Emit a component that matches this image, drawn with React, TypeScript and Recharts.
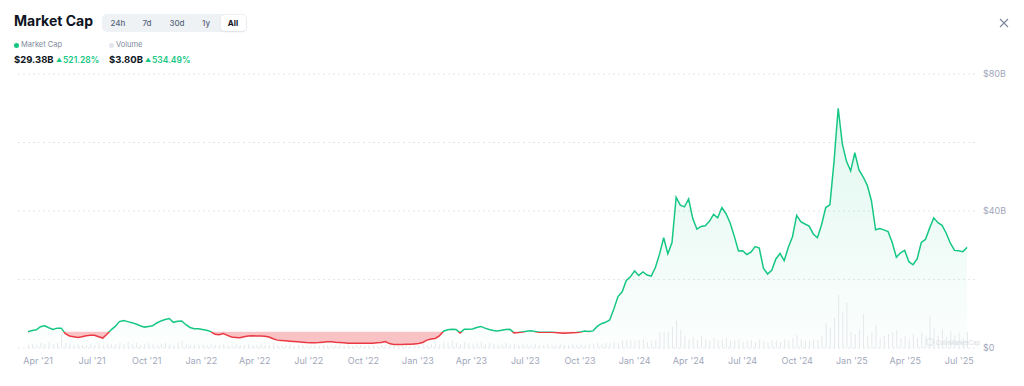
import { Area, Bar, CartesianGrid, ComposedChart, XAxis, YAxis } from 'recharts';

// weekly samples, Mar 15 2021 -> Jul 14 2025
const startDate = Date.UTC(2021, 2, 15);
const WEEK = 7 * 24 * 3600 * 1000;

// market cap, $B
const marketCap = [
  4.73, 5.1, 5.3, 6.2, 6.5, 5.9, 5.4, 5.8, 5.8, 4.2,
  3.5, 3.3, 3.1, 3.3, 3.6, 3.7, 3.7, 3.3, 2.9, 4.0,
  5.3, 6.3, 7.7, 8.0, 7.7, 7.4, 7.0, 6.5, 6.1, 6.3,
  6.5, 7.3, 7.9, 8.3, 8.6, 7.5, 7.8, 7.9, 6.8, 6.0,
  5.6, 5.6, 5.4, 5.2, 4.8, 4.0, 3.9, 4.2, 3.7, 3.2,
  3.1, 3.0, 3.3, 3.5, 3.6, 3.5, 3.5, 3.4, 3.2, 2.7,
  2.3, 2.2, 2.1, 2.0, 1.9, 1.8, 1.7, 1.6, 1.55, 1.55,
  1.6, 1.7, 1.8, 1.85, 1.7, 1.6, 1.5, 1.4, 1.4, 1.4,
  1.4, 1.4, 1.4, 1.4, 1.5, 1.6, 1.9, 1.3, 1.05, 1.05,
  1.05, 1.1, 1.1, 1.2, 1.3, 1.6, 2.3, 2.6, 2.8, 3.5,
  4.9, 5.3, 5.5, 5.4, 4.4, 5.5, 5.5, 5.55, 6.0, 6.3,
  5.8, 5.4, 5.1, 5.0, 5.2, 5.4, 5.45, 4.4, 4.5, 4.7,
  4.9, 5.0, 4.8, 4.6, 4.6, 4.6, 4.6, 4.5, 4.4, 4.3,
  4.4, 4.45, 4.5, 4.7, 4.95, 4.8, 5.0, 6.3, 7.1, 7.5,
  8.2, 11.4, 15.0, 16.4, 19.7, 20.8, 22.5, 21.2, 22.2, 21.3,
  21.0, 23.5, 27.4, 32.2, 27.5, 30.8, 44.0, 41.7, 41.2, 43.5,
  37.8, 34.7, 35.5, 35.7, 37.0, 39.0, 38.0, 41.0, 39.2, 36.5,
  32.6, 28.3, 28.4, 27.3, 28.0, 29.6, 29.2, 23.3, 21.6, 22.7,
  26.0, 27.6, 25.5, 29.4, 32.5, 38.7, 36.9, 36.2, 35.6, 33.3,
  32.2, 36.0, 41.0, 41.8, 54.5, 70.0, 59.5, 54.5, 51.7, 57.0,
  52.0, 50.0, 47.5, 43.0, 34.5, 34.9, 34.5, 34.0, 30.8, 26.5,
  27.8, 28.5, 25.2, 24.3, 26.0, 30.8, 31.7, 35.0, 38.0, 36.6,
  35.8, 33.5, 30.6, 28.5, 28.4, 28.1, 29.38,
];

// volume, $B
const volume = [
  0.7, 0.9, 0.7, 1.2, 0.9, 1.4, 0.9, 1.2, 3.1, 1.2,
  0.9, 0.7, 0.9, 0.7, 0.7, 0.9, 0.7, 1.2, 0.7, 0.9,
  0.9, 0.9, 1.2, 0.9, 1.4, 0.9, 1.2, 0.7, 0.9, 1.2,
  0.9, 0.7, 0.9, 1.2, 0.9, 0.7, 1.4, 1.7, 0.9, 0.7,
  0.7, 0.9, 0.7, 0.7, 0.9, 0.7, 0.7, 0.9, 0.7, 0.7,
  0.9, 0.7, 0.7, 0.9, 0.7, 0.7, 0.9, 0.7, 0.7, 1.2,
  0.7, 0.5, 0.7, 0.7, 0.5, 0.7, 0.7, 0.5, 0.7, 0.7,
  0.5, 0.7, 0.7, 0.5, 0.7, 0.7, 0.5, 0.7, 0.5, 0.7,
  0.7, 0.5, 0.7, 0.7, 0.5, 0.7, 0.9, 0.7, 0.7, 0.5,
  0.7, 0.7, 0.5, 0.7, 0.7, 0.9, 0.7, 0.9, 1.2, 0.9,
  1.4, 1.2, 1.7, 1.2, 0.9, 1.4, 1.2, 0.9, 1.2, 1.4,
  0.9, 1.2, 0.9, 0.7, 0.9, 1.2, 0.9, 0.9, 0.7, 0.9,
  0.9, 0.7, 0.9, 0.7, 0.7, 0.9, 0.7, 0.7, 0.9, 0.7,
  0.7, 0.9, 0.7, 0.9, 0.7, 0.9, 0.9, 1.2, 0.9, 1.2,
  1.2, 1.4, 1.2, 1.7, 1.9, 1.9, 1.7, 1.9, 2.1, 1.4,
  1.7, 1.9, 3.8, 3.8, 3.8, 5.0, 6.6, 4.3, 2.9, 2.1,
  2.6, 1.9, 2.9, 2.1, 1.7, 2.4, 1.9, 2.1, 2.4, 1.7,
  1.9, 2.1, 1.4, 1.7, 1.9, 1.4, 2.1, 1.7, 1.4, 1.9,
  1.7, 1.4, 2.1, 1.9, 2.4, 3.1, 2.1, 1.9, 1.7, 2.1,
  1.9, 2.9, 5.9, 4.8, 7.1, 12.6, 8.6, 10.7, 3.8, 3.3,
  4.3, 8.1, 2.9, 3.8, 5.5, 2.4, 2.9, 3.3, 3.8, 4.3,
  2.4, 2.9, 2.1, 3.3, 2.4, 3.6, 2.9, 7.4, 4.8, 2.9,
  4.3, 2.6, 4.0, 2.9, 3.6, 2.4, 3.8,
];

const tickDates = [
  '2021-04-01', '2021-07-01', '2021-10-01', '2022-01-01', '2022-04-01', '2022-07-01',
  '2022-10-01', '2023-01-01', '2023-04-01', '2023-07-01', '2023-10-01', '2024-01-01',
  '2024-04-01', '2024-07-01', '2024-10-01', '2025-01-01', '2025-04-01', '2025-07-01',
];
const yTicks = [0, 20, 40, 60, 80];

const months = ['Jan', 'Feb', 'Mar', 'Apr', 'May', 'Jun', 'Jul', 'Aug', 'Sep', 'Oct', 'Nov', 'Dec'];
const xTicks = tickDates.map((d) => Date.parse(d));

const baseline = marketCap[0];
const data = marketCap.map((mc, i) => ({
  t: startDate + i * WEEK,
  mc,
  vol: volume[i],
  red: mc < baseline ? [mc, baseline] : [baseline, baseline],
}));

const maxMc = Math.max(...marketCap);
const minMc = Math.min(...marketCap);
const splitOffset = (maxMc - baseline) / (maxMc - minMc);

const GREEN = '#16c784';
const RED = '#ea3943';
const AXIS = '#a1a7bb';

const formatX = (t: number) => {
  const d = new Date(t);
  return `${months[d.getUTCMonth()]} '${String(d.getUTCFullYear()).slice(2)}`;
};

const formatY = (v: number) => (v === 0 ? '$0' : v % 40 === 0 ? `$${v}B` : '');

const abs = (left: number, top: number): React.CSSProperties => ({
  position: 'absolute',
  left,
  top,
  whiteSpace: 'nowrap',
});

const Header = () => (
  <>
    <div style={{ ...abs(14, 12), fontSize: 14, fontWeight: 700, color: '#0d1421', lineHeight: '18px' }}>
      Market Cap
    </div>
    <div style={{ ...abs(102, 14), width: 145, height: 18, background: '#eff2f5', borderRadius: 5 }} />
    <div
      style={{
        ...abs(221, 15),
        width: 25,
        height: 16,
        background: '#fff',
        borderRadius: 4,
        boxShadow: '0 1px 2px rgba(88,102,126,0.12)',
      }}
    />
    {[
      ['24h', 118],
      ['7d', 147],
      ['30d', 177],
      ['1y', 206],
      ['All', 233],
    ].map(([label, cx]) => (
      <div
        key={label as string}
        style={{
          ...abs((cx as number) - 15, 18),
          width: 30,
          textAlign: 'center',
          fontSize: 8,
          lineHeight: '10px',
          fontWeight: label === 'All' ? 700 : 500,
          color: label === 'All' ? '#0d1421' : '#58667e',
        }}
      >
        {label}
      </div>
    ))}
    <div style={{ ...abs(14, 43), width: 4.5, height: 4.5, borderRadius: '50%', background: GREEN }} />
    <div style={{ ...abs(21, 40), fontSize: 7.5, lineHeight: '10px', color: '#808a9d' }}>Market Cap</div>
    <div style={{ ...abs(109, 43), width: 4.5, height: 4.5, borderRadius: '50%', background: '#e3e6ec' }} />
    <div style={{ ...abs(116, 40), fontSize: 7.5, lineHeight: '10px', color: '#808a9d' }}>Volume</div>

    <div style={{ ...abs(14, 54), fontSize: 9.5, lineHeight: '12px', fontWeight: 700, color: '#0d1421' }}>$29.38B</div>
    <div style={{ ...abs(56, 55), fontSize: 6, lineHeight: '10px', color: GREEN }}>▲</div>
    <div style={{ ...abs(63, 55), fontSize: 8.5, lineHeight: '10px', fontWeight: 600, color: GREEN }}>521.28%</div>
    <div style={{ ...abs(109, 54), fontSize: 9.5, lineHeight: '12px', fontWeight: 700, color: '#0d1421' }}>$3.80B</div>
    <div style={{ ...abs(145, 55), fontSize: 6, lineHeight: '10px', color: GREEN }}>▲</div>
    <div style={{ ...abs(152, 55), fontSize: 8.5, lineHeight: '10px', fontWeight: 600, color: GREEN }}>534.49%</div>

    <svg style={abs(999, 18)} width={10} height={10}>
      <path d="M1 1 L9 9 M9 1 L1 9" stroke="#808a9d" strokeWidth={1.2} />
    </svg>

    <div style={{ ...abs(926, 338), width: 8, height: 8, borderRadius: '50%', border: '1px solid #dde1e7', boxSizing: 'border-box' }} />
    <div style={{ ...abs(936, 339), fontSize: 6, lineHeight: '8px', color: '#d6dae1' }}>CoinMarketCap</div>
  </>
);

export default function App() {
  return (
    <div
      style={{
        position: 'absolute',
        left: 0,
        top: 0,
        width: 1024,
        height: 386,
        background: '#fff',
        fontFamily: 'Inter, sans-serif',
        overflow: 'hidden',
      }}
    >
      <div style={abs(0, 0)}>
        <ComposedChart width={1024} height={386} data={data} margin={{ top: 74, right: 0, bottom: 8, left: 18 }}>
          <defs>
            <linearGradient id="mcStroke" x1="0" y1="0" x2="0" y2="1">
              <stop offset={splitOffset} stopColor={GREEN} />
              <stop offset={splitOffset} stopColor={RED} />
            </linearGradient>
            <linearGradient id="mcFill" x1="0" y1="0" x2="0" y2="1">
              <stop offset="0%" stopColor={GREEN} stopOpacity={0.22} />
              <stop offset="100%" stopColor={GREEN} stopOpacity={0.02} />
            </linearGradient>
          </defs>
          <CartesianGrid yAxisId="mc" vertical={false} stroke="#e3e6ec" strokeDasharray="2 3" />
          <XAxis
            dataKey="t"
            type="number"
            domain={['dataMin', 'dataMax']}
            ticks={xTicks}
            interval={0}
            tickFormatter={formatX}
            axisLine={false}
            tickLine={false}
            tickMargin={4}
            padding={{ left: 10, right: 8 }}
            tick={{ fontSize: 9, fill: AXIS }}
          />
          <YAxis
            yAxisId="mc"
            orientation="right"
            domain={[0, 80]}
            ticks={yTicks}
            tickFormatter={formatY}
            width={49}
            axisLine={false}
            tickLine={false}
            tickMargin={2}
            tick={{ fontSize: 9, fill: AXIS }}
          />
          <YAxis yAxisId="vol" hide domain={[0, 65]} />
          <Bar yAxisId="vol" dataKey="vol" barSize={1} fill="#e6e8ec" isAnimationActive={false} />
          <Area
            yAxisId="mc"
            type="linear"
            dataKey="red"
            stroke="none"
            fill={RED}
            fillOpacity={0.3}
            dot={false}
            activeDot={false}
            isAnimationActive={false}
          />
          <Area
            yAxisId="mc"
            type="linear"
            dataKey="mc"
            stroke="url(#mcStroke)"
            strokeWidth={1.5}
            fill="url(#mcFill)"
            dot={false}
            activeDot={false}
            isAnimationActive={false}
          />
        </ComposedChart>
      </div>
      <Header />
    </div>
  );
}
